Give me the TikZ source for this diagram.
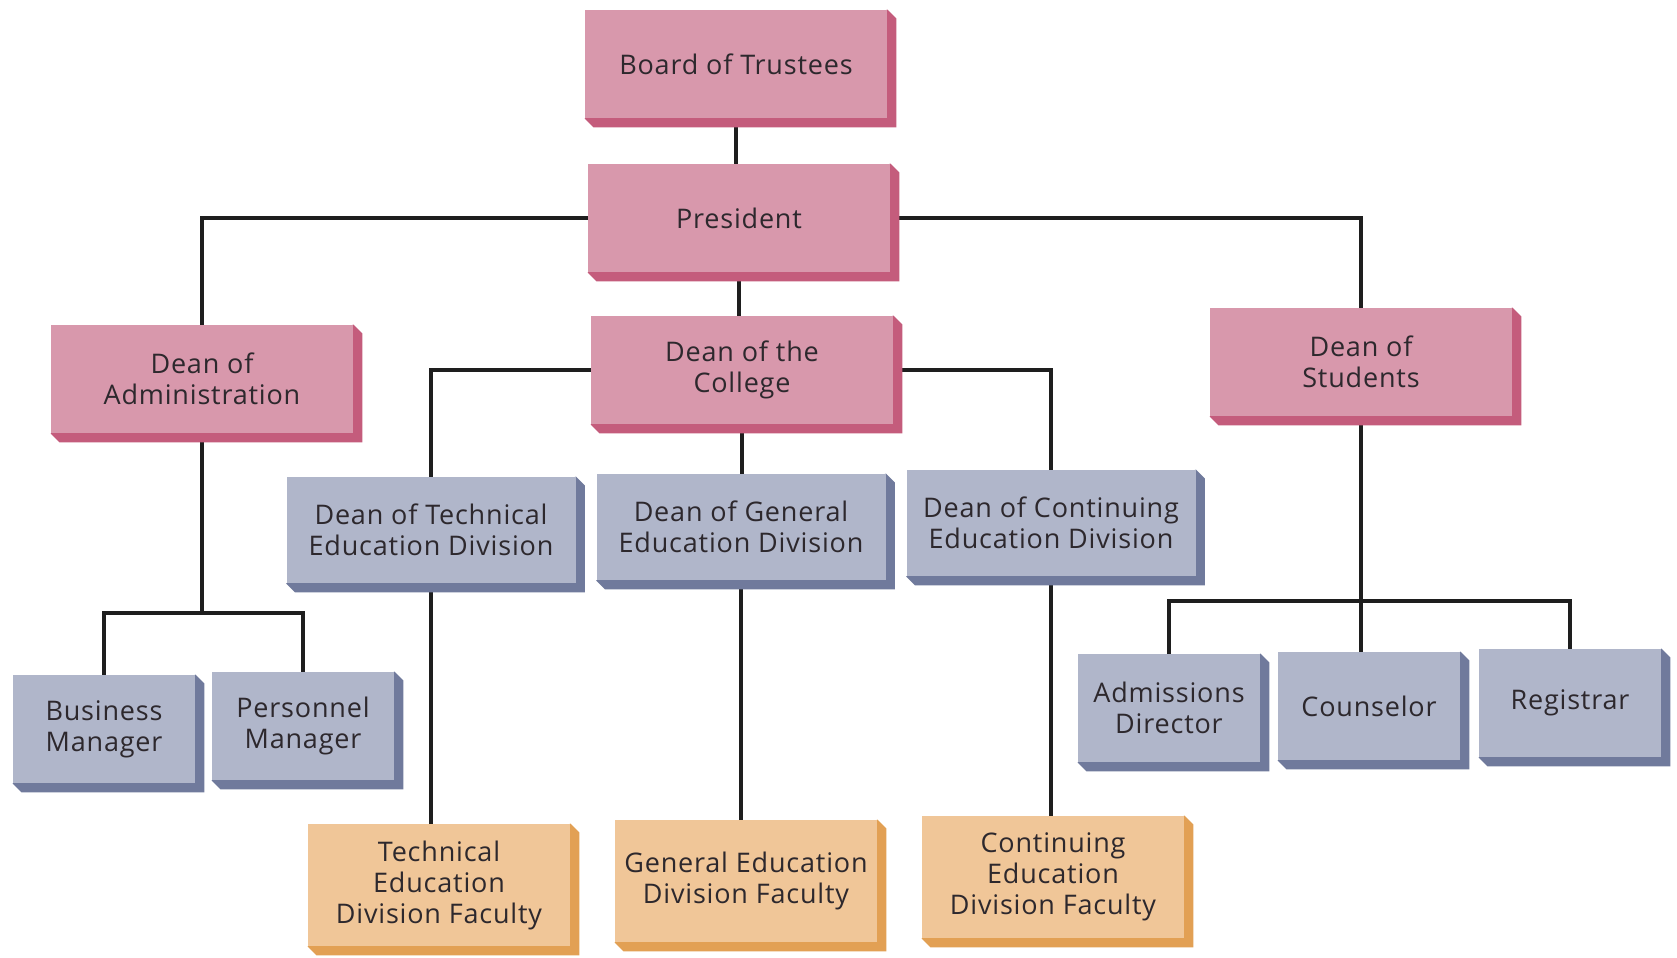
\documentclass[tikz,border=0pt]{standalone}
\usepackage{fontspec}
\setmainfont{Open Sans}[LetterSpace=3]
\usetikzlibrary{backgrounds}
\definecolor{pinkface}{RGB}{216,152,172}
\definecolor{pinkside}{RGB}{196,92,124}
\definecolor{blueface}{RGB}{176,182,202}
\definecolor{blueside}{RGB}{112,122,156}
\definecolor{tanface}{RGB}{240,198,152}
\definecolor{tanside}{RGB}{226,160,84}
\definecolor{txt}{RGB}{45,40,45}
\definecolor{linec}{RGB}{30,30,30}
\pgfdeclarelayer{bottom}
\pgfsetlayers{bottom,background,main}
\begin{document}
\begin{tikzpicture}[x=0.5pt,y=-0.5pt,
  orgbox/.style={draw=none, align=center, inner sep=2pt, text=txt,
    font=\fontsize{13.5}{15.5}\selectfont},
  pinkbox/.style={orgbox, fill=pinkface, minimum width=151pt, minimum height=54pt},
  bluebig/.style={orgbox, fill=blueface, minimum width=144.5pt, minimum height=53pt},
  bluesmall/.style={orgbox, fill=blueface, minimum width=91pt, minimum height=54pt},
  tanbox/.style={orgbox, fill=tanface, minimum width=131pt, minimum height=61pt},
  conn/.style={draw=linec, line width=2pt}]
\begin{pgfonlayer}{bottom}
\fill[white] (0,0) rectangle (1677,958);
\end{pgfonlayer}
\useasboundingbox (0,0) rectangle (1677,958);

\node[pinkbox] (bot)  at (736,64)    {Board of Trustees};
\node[pinkbox] (pres) at (739,218)   {President};
\node[pinkbox] (dadm) at (202,379)   {Dean of\\Administration};
\node[pinkbox] (dcol) at (742,370)   {Dean of the\\College};
\node[pinkbox] (dstu) at (1361,362)  {Dean of\\Students};

\node[bluebig] (dtech) at (431,530)  {Dean of Technical\\Education Division};
\node[bluebig] (dgen)  at (741,527)  {Dean of General\\Education Division};
\node[bluebig] (dcont) at (1051,523) {Dean of Continuing\\Education Division};

\node[bluesmall] (bm)   at (104,729)  {Business\\Manager};
\node[bluesmall] (pm)   at (303,726)  {Personnel\\Manager};
\node[bluesmall] (ad)   at (1169,708) {Admissions\\Director};
\node[bluesmall] (cou)  at (1369,706) {Counselor};
\node[bluesmall] (reg)  at (1570,703) {Registrar};

\node[tanbox] (ftech) at (439,885)  {Technical\\Education\\Division Faculty};
\node[tanbox] (fgen)  at (746,881)  {General Education\\Division Faculty};
\node[tanbox] (fcont) at (1053,877) {Continuing\\Education\\Division Faculty};

\coordinate (ja) at (202,613);
\coordinate (js) at (1361,601);

\begin{pgfonlayer}{background}
  \draw[conn] (bot) -- (bot |- pres.north);
  \draw[conn] (pres) -- (pres |- dcol.north);
  \draw[conn] (pres.west) -| (dadm.north);
  \draw[conn] (pres.east) -| (dstu.north);
  \draw[conn] (dcol.west) -| (dtech.north);
  \draw[conn] (dcol.east) -| (dcont.north);
  \draw[conn] (dcol) -- (dcol |- dgen.north);
  \draw[conn] (dadm) -- (ja);
  \draw[conn] (bm.north) |- (ja) -| (pm.north);
  \draw[conn] (dstu) -- (dstu |- cou.north);
  \draw[conn] (ad.north) |- (js) -| (reg.north);
  \draw[conn] (dtech) -- (dtech |- ftech.north);
  \draw[conn] (dgen) -- (dgen |- fgen.north);
  \draw[conn] (dcont) -- (dcont |- fcont.north);
  \foreach \n/\c in {bot/pinkside, pres/pinkside, dadm/pinkside, dcol/pinkside, dstu/pinkside,
      dtech/blueside, dgen/blueside, dcont/blueside, bm/blueside, pm/blueside,
      ad/blueside, cou/blueside, reg/blueside,
      ftech/tanside, fgen/tanside, fcont/tanside}{
    \fill[\c] (\n.north east) -- ([shift={(9,9)}]\n.north east)
      -- ([shift={(9,9)}]\n.south east) -- ([shift={(9,9)}]\n.south west)
      -- (\n.south west) -- cycle;
  }
\end{pgfonlayer}
\end{tikzpicture}
\end{document}
